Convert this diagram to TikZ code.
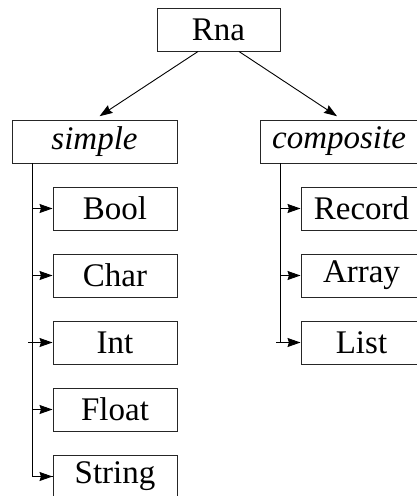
\documentclass[tikz,border=0pt]{standalone}
\usepackage{fontspec}
\setmainfont{Liberation Serif}
\usetikzlibrary{arrows.meta,calc}
\begin{document}
\begin{tikzpicture}[x=1pt,y=-1pt,
  typebox/.style={draw=black!85,line width=1pt,minimum height=43pt,inner sep=0pt,
    font=\fontsize{33}{33}\selectfont},
  link/.style={line width=0.9pt,-{Stealth[length=13pt,width=9pt,inset=1.5pt]}},
  trunk/.style={line width=0.9pt}]
\useasboundingbox (0,0) rectangle (417,496);
% root and the two kinds
\node[typebox,minimum width=123pt] (rna) at (218.5,29.5) {Rna};
\node[typebox,minimum width=165pt] (simple) at (94.5,141.5) {\itshape simple};
\node[typebox,minimum width=158pt] (composite) at (339,141.5) {\itshape composite};
% simple types
\node[typebox,minimum width=124pt] (bool) at (115,208.5) {Bool};
\node[typebox,minimum width=124pt] (char) at (115,275.5) {Char};
\node[typebox,minimum width=124pt] (int) at (115,342.5) {Int};
\node[typebox,minimum width=124pt] (float) at (115,409.5) {Float};
\node[typebox,minimum width=124pt] (string) at (115,476.5) {String};
% composite types
\node[typebox,minimum width=121pt] (record) at (361.5,208.5) {Record};
\node[typebox,minimum width=121pt] (array) at (361.5,275.5) {Array};
\node[typebox,minimum width=121pt] (list) at (361.5,342.5) {List};
% root arrows
\draw[link,shorten >=6pt] ($(rna.south)+(-20.5,0)$) -- (simple.north);
\draw[link,shorten >=6pt] ($(rna.south)+(20.5,0)$) -- ($(composite.north)+(3,0)$);
% simple branch
\coordinate (sx) at (32,163);
\draw[trunk] (sx) |- (string.west);
\draw[link] (sx |- bool.west) -- (bool.west);
\draw[link] (sx |- char.west) -- (char.west);
\draw[link] ($(sx |- int.west)+(-4,0)$) -- (int.west);
\draw[link] (sx |- float.west) -- (float.west);
\draw[link] (sx |- string.west) -- (string.west);
% composite branch
\coordinate (cx) at (280,163);
\draw[trunk] (cx) -- (cx |- list.west);
\draw[link] (cx |- record.west) -- (record.west);
\draw[link] (cx |- array.west) -- (array.west);
\draw[link] ($(cx |- list.west)+(-4,0)$) -- (list.west);
\end{tikzpicture}
\end{document}
